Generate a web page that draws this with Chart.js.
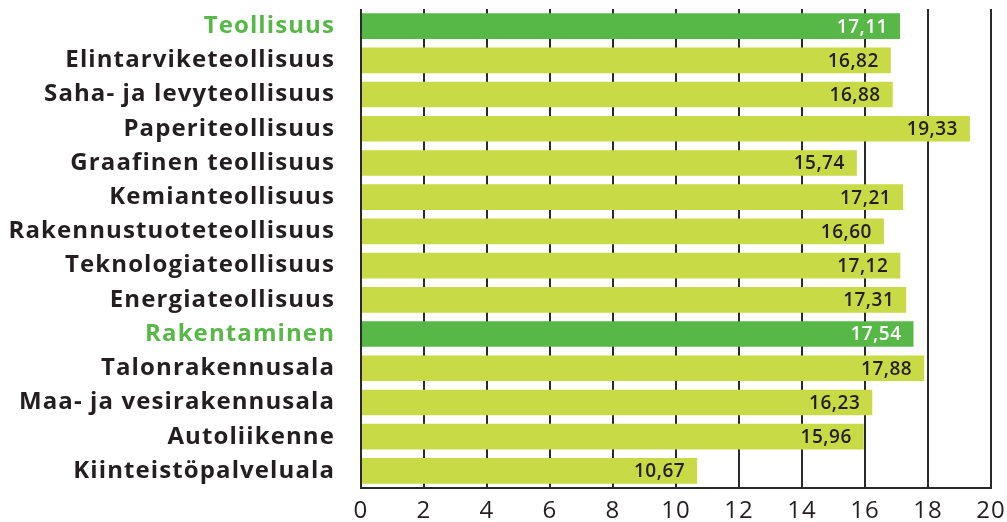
<!DOCTYPE html>
<html>
<head>
<meta charset="utf-8">
<script src="https://cdn.jsdelivr.net/npm/chart.js@4/dist/chart.umd.min.js"></script>
<style>
  html, body { margin: 0; padding: 0; background: #fff; }
  #wrap { width: 1007px; height: 522px; }
</style>
</head>
<body>
<div id="wrap"><canvas id="costChart"></canvas></div>
<script>
const categories = ['Teollisuus', 'Elintarviketeollisuus', 'Saha- ja levyteollisuus', 'Paperiteollisuus',
  'Graafinen teollisuus', 'Kemianteollisuus', 'Rakennustuoteteollisuus', 'Teknologiateollisuus',
  'Energiateollisuus', 'Rakentaminen', 'Talonrakennusala', 'Maa- ja vesirakennusala',
  'Autoliikenne', 'Kiinteistöpalveluala'];
const values = [17.11, 16.82, 16.88, 19.33, 15.74, 17.21, 16.60, 17.12, 17.31, 17.54, 17.88, 16.23, 15.96, 10.67];
const mainRows = ['Teollisuus', 'Rakentaminen'];
const xTicks = [0, 2, 4, 6, 8, 10, 12, 14, 16, 18, 20];

const GREEN = '#57b847';
const LIME = '#c8da46';
const INK = '#231f20';
const isMain = (i) => mainRows.includes(categories[i]);

// the original typeface is wider, so open the letters up a bit
const spacing = {
  id: 'spacing',
  beforeDraw(chart) { chart.ctx.letterSpacing = '1.1px'; }
};

// value label drawn inside the end of each bar
const valueLabels = {
  id: 'valueLabels',
  afterDatasetsDraw(chart) {
    const c = chart.ctx;
    const meta = chart.getDatasetMeta(0);
    c.save();
    c.letterSpacing = '0.5px';
    c.font = '600 19px "Open Sans"';
    c.textAlign = 'right';
    c.textBaseline = 'middle';
    meta.data.forEach((bar, i) => {
      c.fillStyle = isMain(i) ? '#ffffff' : INK;
      c.fillText(values[i].toFixed(2).replace('.', ','), bar.x - 12, bar.y + 1);
    });
    c.restore();
  }
};

new Chart(document.getElementById('costChart'), {
  type: 'bar',
  data: {
    labels: categories,
    datasets: [{
      data: values,
      backgroundColor: categories.map((_, i) => isMain(i) ? GREEN : LIME),
      borderWidth: 0,
      barPercentage: 0.75,
      categoryPercentage: 1
    }]
  },
  options: {
    indexAxis: 'y',
    responsive: true,
    maintainAspectRatio: false,
    animation: false,
    layout: { padding: { top: 9, right: 16, left: 0, bottom: 0 } },
    plugins: { legend: { display: false }, tooltip: { enabled: false } },
    scales: {
      x: {
        min: 0,
        max: 20,
        afterBuildTicks: (s) => { s.ticks = xTicks.map(v => ({ value: v })); },
        afterFit: (s) => { s.height = 34; s.paddingLeft = 0; s.paddingRight = 0; },
        grid: { color: '#2a2a2a', lineWidth: 2, drawTicks: false },
        border: { display: true, color: '#2a2a2a', width: 2 },
        ticks: { color: INK, font: { family: 'Open Sans', size: 24 }, padding: 9 }
      },
      y: {
        afterFit: (s) => { s.width = 361; s.paddingTop = 0; s.paddingBottom = 0; },
        grid: { display: false },
        border: { display: false },
        ticks: {
          color: (ctx) => isMain(ctx.index) ? GREEN : INK,
          font: { family: 'Open Sans', size: 24, weight: 'bold' },
          padding: 18
        }
      }
    }
  },
  plugins: [spacing, valueLabels]
});
</script>
</body>
</html>
